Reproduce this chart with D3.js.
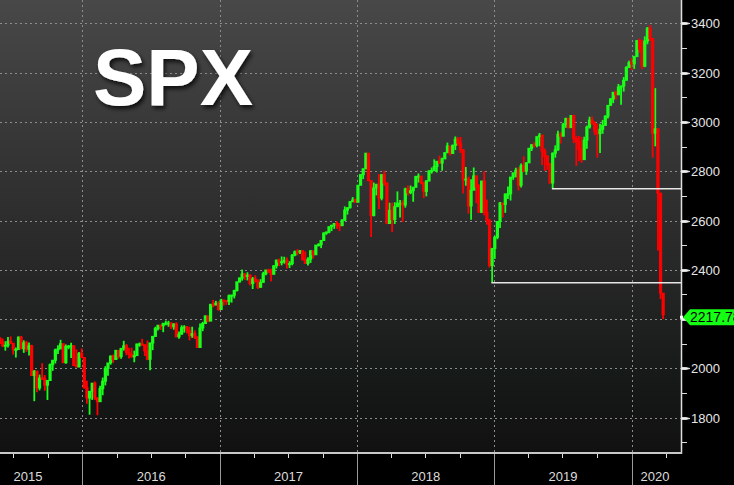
<!DOCTYPE html>
<html><head><meta charset="utf-8">
<script src="https://cdn.jsdelivr.net/npm/d3@7"></script>
<style>html,body{margin:0;padding:0;background:#000;overflow:hidden}</style>
</head><body>
<svg id="c" width="734" height="485"></svg>
<script>
// ---- DATA (weekly OHLC of SPX) ----
const firstWeekEnd = "2015-05-29";
const firstOpen = 2122;
const closes = [
2107,2092,2094,2110,2102,2077,2077,2127,2080,2104,2078,2092,1971,1989,1921,1961,1958,1932,1951,2015,2033,2075,2079,2100,2023,2089,2090,2092,2012,2006,2061,2044,
1922,1880,1907,1940,1880,1865,1918,1948,2000,2022,2050,2036,2073,2048,2081,2092,2065,2057,2047,2052,2099,2099,2096,2071,2037,2103,2130,2162,2175,2173,2183,2184,2184,2169,2180,2128,2139,2165,2168,2153,2133,2141,2126,2085,2164,2182,2213,2192,2260,2258,2264,2239,
2277,2275,2271,2295,2297,2316,2351,2367,2383,2373,2378,2344,2363,2355,2329,2349,2384,2399,2391,2382,2416,2439,2432,2433,2438,2423,2425,2459,2473,2472,2477,2441,2426,2443,2477,2461,2500,2502,2519,2549,2553,2575,2581,2588,2582,2579,2602,2642,2652,2676,2683,2674,
2743,2786,2810,2873,2762,2620,2732,2747,2691,2786,2752,2588,2641,2604,2656,2670,2670,2663,2728,2713,2721,2735,2779,2780,2755,2718,2760,2801,2802,2819,2840,2833,2850,2875,2902,2872,2905,2930,2914,2886,2767,2768,2659,2723,2781,2736,2633,2760,2633,2600,2417,2486,
2532,2596,2671,2665,2707,2708,2776,2793,2804,2743,2822,2800,2834,2893,2907,2905,2940,2946,2881,2860,2826,2752,2873,2887,2950,2942,2990,3014,2977,3026,2932,2919,2889,2847,2926,2979,3007,2992,2962,2952,2970,2986,3023,3067,3093,3120,3110,3141,3146,3169,3221,3240,
3235,3265,3330,3295,3226,3328,3380,3338,2954,2972,2711,2305,2217.78];
const highs = [
2126,2121,2110,2127,2130,2102,2085,2129,2132,2114,2112,2105,2096,1993,1987,1975,2021,1973,1951,2020,2033,2080,2094,2116,2100,2097,2095,2104,2090,2077,2067,2081,
2038,1950,1908,1940,1947,1882,1930,1963,2009,2022,2052,2056,2075,2073,2083,2112,2099,2084,2084,2072,2100,2105,2120,2094,2113,2104,2131,2169,2175,2178,2183,2194,2193,2187,2183,2187,2150,2175,2175,2172,2169,2169,2154,2131,2182,2189,2214,2214,2260,2278,2274,2273,
2282,2279,2276,2300,2299,2319,2352,2368,2401,2386,2390,2382,2371,2378,2362,2362,2392,2399,2404,2405,2419,2441,2446,2454,2453,2450,2435,2464,2478,2484,2480,2480,2474,2451,2480,2470,2500,2508,2519,2552,2555,2575,2582,2588,2597,2590,2605,2657,2652,2679,2695,2689,
2744,2787,2807,2873,2870,2763,2754,2747,2789,2786,2802,2754,2672,2672,2674,2718,2683,2682,2733,2742,2742,2736,2779,2791,2774,2756,2764,2804,2815,2848,2841,2863,2855,2876,2916,2902,2908,2941,2939,2939,2889,2817,2778,2767,2815,2781,2747,2760,2800,2685,2607,2489,
2538,2597,2675,2670,2710,2738,2776,2794,2814,2816,2831,2860,2836,2894,2910,2918,2940,2955,2948,2892,2865,2833,2876,2905,2964,2958,2996,3017,3018,3027,3029,2944,2943,2939,2940,2985,3021,3022,3002,2993,2993,3008,3027,3067,3097,3120,3127,3154,3146,3182,3226,3248,
3259,3268,3330,3338,3333,3347,3385,3393,3337,3137,2911,2553,2305];
const lows = [
2099,2086,2072,2085,2100,2056,2044,2079,2078,2063,2067,2052,1970,1867,1903,1911,1953,1909,1872,1951,1990,2020,2058,2080,2022,2019,2078,2042,2011,2005,2005,2043,
1918,1857,1812,1872,1872,1810,1871,1891,1931,1970,2015,2023,2034,2039,2039,2072,2053,2040,2044,2025,2052,2088,2092,2050,2033,1992,2074,2128,2154,2156,2147,2175,2169,2160,2157,2128,2120,2137,2145,2142,2114,2124,2119,2084,2084,2151,2182,2187,2192,2248,2255,2234,
2245,2255,2258,2257,2267,2284,2312,2348,2356,2359,2357,2336,2322,2348,2322,2328,2363,2378,2388,2353,2381,2405,2415,2418,2425,2405,2407,2418,2455,2459,2464,2437,2425,2417,2428,2446,2474,2495,2488,2520,2542,2548,2557,2566,2566,2557,2579,2598,2624,2649,2680,2673,
2683,2743,2768,2808,2759,2533,2617,2702,2647,2682,2741,2585,2594,2553,2586,2660,2612,2594,2652,2701,2707,2676,2734,2754,2747,2691,2698,2770,2790,2801,2795,2830,2802,2850,2884,2864,2874,2886,2903,2874,2710,2741,2628,2603,2726,2670,2631,2631,2621,2583,2409,2347,
2444,2524,2570,2612,2631,2687,2681,2765,2775,2722,2734,2796,2785,2849,2882,2896,2897,2901,2825,2801,2805,2750,2729,2855,2883,2912,2964,2976,2973,2979,2914,2822,2840,2834,2853,2891,2973,2990,2946,2855,2874,2952,2984,3014,3065,3076,3091,3112,3070,3123,3183,3221,
3211,3215,3263,3280,3214,3222,3315,3328,2855,2901,2478,2281,2200];
const yTicks = [1800,2000,2200,2400,2600,2800,3000,3200,3400];
const yearLabels = ["2015","2016","2017","2018","2019","2020"];
const lastPrice = 2217.78;
const supportStarts = ["2019-06-03","2018-12-24"];
const supportValues = [2729, 2347];
const title = "SPX";

// ---- CHART ----
const W = 734, H = 485, plotR = 681, plotB = 453;
const svg = d3.select("#c");
const parse = d3.timeParse("%Y-%m-%d");
const x = d3.scaleTime().domain([parse("2016-01-01"), parse("2020-01-01")]).range([82.4, 631.6]);
const y = d3.scaleLinear().domain([1800, 3400]).range([417.7, 23.3]);

const defs = svg.append("defs");
const g = defs.append("linearGradient").attr("id","bg").attr("x1",0).attr("y1",0).attr("x2",0).attr("y2",1);
[[0,"#484848"],[0.25,"#3a3a3a"],[0.5,"#2c2c2c"],[0.7,"#202221"],[0.82,"#161a18"],[1,"#111111"]]
  .forEach(([o,c]) => g.append("stop").attr("offset",o).attr("stop-color",c));
const f = defs.append("filter").attr("id","sh").attr("x","-10%").attr("y","-10%").attr("width","130%").attr("height","140%");
f.append("feDropShadow").attr("dx",2).attr("dy",3).attr("stdDeviation",2.2).attr("flood-color","#000").attr("flood-opacity",0.75);
defs.append("clipPath").attr("id","clip").append("rect").attr("x",0).attr("y",0).attr("width",plotR).attr("height",plotB);

svg.append("rect").attr("width",W).attr("height",H).attr("fill","#000");
svg.append("rect").attr("width",plotR).attr("height",plotB).attr("fill","url(#bg)");

// gridlines
const grid = svg.append("g").attr("stroke","#8c8c8c").attr("stroke-dasharray","2,3").attr("stroke-width",1);
yTicks.forEach(v => grid.append("line").attr("x1",0).attr("x2",plotR).attr("y1",Math.round(y(v))+0.5).attr("y2",Math.round(y(v))+0.5));
const yearStarts = d3.timeYear.range(parse("2016-01-01"), parse("2020-06-01"));
yearStarts.forEach(d => grid.append("line").attr("x1",Math.round(x(d))+0.5).attr("x2",Math.round(x(d))+0.5).attr("y1",0).attr("y2",plotB));

// title
svg.append("text").attr("x",93).attr("y",105).attr("font-family","Liberation Sans, Arial, sans-serif")
  .attr("font-weight","bold").attr("font-size",80).attr("fill","#fff").attr("filter","url(#sh)").text(title);

// candles
const start = parse(firstWeekEnd);
const candles = closes.map((c,i) => {
  const end = d3.timeDay.offset(start, 7*i);
  const open = i === 0 ? firstOpen : closes[i-1];
  return {date: d3.timeDay.offset(end,-2), open, close:c,
          high: Math.max(highs[i], open, c), low: Math.min(lows[i], open, c)};
});
const up = "#19ff19", down = "#ff0000";
const cg = svg.append("g").attr("clip-path","url(#clip)");
const bw = 3.2;
cg.selectAll("line.w").data(candles).join("line").attr("class","w")
  .attr("x1",d=>x(d.date)).attr("x2",d=>x(d.date)).attr("y1",d=>y(d.high)).attr("y2",d=>y(d.low))
  .attr("stroke",d=>d.close>=d.open?up:down).attr("stroke-width",1.8);
cg.selectAll("rect.b").data(candles).join("rect").attr("class","b")
  .attr("x",d=>x(d.date)-bw/2).attr("width",bw)
  .attr("y",d=>y(Math.max(d.open,d.close))-0.5).attr("height",d=>Math.max(2,Math.abs(y(d.open)-y(d.close))+1))
  .attr("fill",d=>d.close>=d.open?up:down);

// support lines
supportStarts.forEach((s,i) => svg.append("line").attr("x1",x(parse(s))).attr("x2",plotR)
  .attr("y1",y(supportValues[i])).attr("y2",y(supportValues[i])).attr("stroke","#e6e6e6").attr("stroke-width",1.5));

// axes frame
svg.append("line").attr("x1",plotR+0.5).attr("x2",plotR+0.5).attr("y1",0).attr("y2",plotB+1).attr("stroke","#e0e0e0").attr("stroke-width",1.5);
svg.append("line").attr("x1",0).attr("x2",plotR+1).attr("y1",plotB).attr("y2",plotB).attr("stroke","#c8c8c8").attr("stroke-width",2);

// last price label position (it covers the tick label it overlaps, as in the reference)
const py = y(lastPrice) + 2.5;

// right axis ticks & labels
const minor = d3.range(1700, 3501, 100).filter(v => !yTicks.includes(v));
minor.forEach(v => svg.append("line").attr("x1",plotR+1).attr("x2",plotR+6).attr("y1",Math.round(y(v))+0.5).attr("y2",Math.round(y(v))+0.5).attr("stroke","#ddd"));
yTicks.forEach(v => {
  const yy = Math.round(y(v))+0.5;
  svg.append("path").attr("d",`M${plotR+1},${yy-1}L${plotR+5},${yy-1}L${plotR+9},${yy}L${plotR+5},${yy+1}L${plotR+1},${yy+1}Z`)
    .attr("fill","#eee").attr("stroke","#eee").attr("stroke-width",0.8);
  if (Math.abs(yy - py) < 12) return; // hidden under the last-price flag
  svg.append("text").attr("x",plotR+10).attr("y",yy+4.5).attr("font-family","Liberation Sans, Arial, sans-serif")
    .attr("font-size",13).attr("fill","#e6e6e6").text(v);
});

// last price label
svg.append("path").attr("d",`M${plotR+2},${py}L${plotR+9},${py-8}L${W+2},${py-8}L${W+2},${py+8}L${plotR+9},${py+8}Z`).attr("fill","#14ff14");
svg.append("rect").attr("x",plotR-1).attr("y",py-1.5).attr("width",3).attr("height",3).attr("fill","#fff");
svg.append("text").attr("x",plotR+9).attr("y",py+5).attr("font-family","Liberation Sans, Arial, sans-serif")
  .attr("font-size",14).attr("fill","#000").text(lastPrice.toFixed(2));

// bottom axis
const quarters = d3.timeMonth.every(3).range(parse("2015-04-01"), parse("2020-05-01"));
quarters.forEach(d => {
  const xx = Math.round(x(d))+0.5;
  if (xx < 0 || xx > plotR) return;
  const isYear = d.getMonth() === 0;
  svg.append("line").attr("x1",xx).attr("x2",xx).attr("y1",plotB+1).attr("y2",isYear?H:plotB+5)
    .attr("stroke",isYear?"#9a9a9a":"#ddd").attr("stroke-width",1);
});
yearLabels.forEach(lbl => {
  const y0 = parse(lbl+"-01-01"), y1 = parse((+lbl+1)+"-01-01");
  let cx = (x(y0)+x(y1))/2;
  cx = Math.max(28, Math.min(655, cx));
  svg.append("text").attr("x",cx).attr("y",481).attr("text-anchor","middle")
    .attr("font-family","Liberation Sans, Arial, sans-serif").attr("font-size",13).attr("fill","#dcdcdc").text(lbl);
});
</script>
</body></html>
